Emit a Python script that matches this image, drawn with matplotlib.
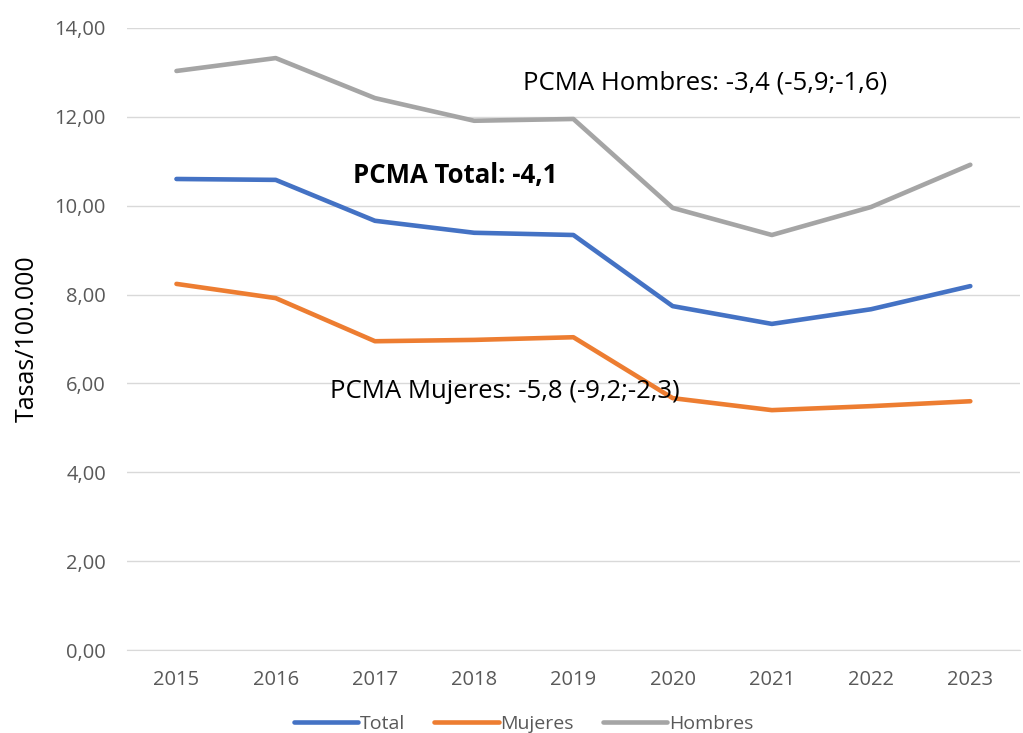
import matplotlib.pyplot as plt

plt.rcParams['font.family'] = ['Open Sans', 'DejaVu Sans']

years = ['2015', '2016', '2017', '2018', '2019', '2020', '2021', '2022', '2023']
total = [10.60, 10.58, 9.66, 9.39, 9.34, 7.74, 7.34, 7.67, 8.19]
mujeres = [8.24, 7.92, 6.95, 6.98, 7.04, 5.67, 5.40, 5.49, 5.60]
hombres = [13.03, 13.32, 12.42, 11.91, 11.95, 9.95, 9.34, 9.97, 10.92]

fig = plt.figure(figsize=(10.23, 7.33), dpi=100)
ax = fig.add_axes([0.124, 0.113, 0.873, 0.849])

x = range(len(years))
ax.plot(x, total, color='#4472C4', lw=3.3, label='Total', solid_capstyle='round')
ax.plot(x, mujeres, color='#ED7D31', lw=3.3, label='Mujeres', solid_capstyle='round')
ax.plot(x, hombres, color='#A5A5A5', lw=3.3, label='Hombres', solid_capstyle='round')

ax.set_xlim(-0.5, len(years) - 0.5)
ax.set_ylim(0, 14)
ax.set_yticks(range(0, 15, 2))
ax.set_yticklabels([f'{v},00' for v in range(0, 15, 2)])
ax.set_xticks(list(x))
ax.set_xticklabels(years)
ax.grid(axis='y', color='#D9D9D9', lw=1)
ax.set_axisbelow(True)
for s in ['top', 'right', 'left']:
    ax.spines[s].set_visible(False)
ax.spines['bottom'].set_color('#D9D9D9')
ax.tick_params(axis='y', length=0, labelsize=14.5, colors='#595959', pad=15)
ax.tick_params(axis='x', length=0, labelsize=14.5, colors='#595959', pad=14)
ax.set_ylabel('Tasas/100.000', fontsize=18, color='#000000', labelpad=11)

ax.text(5.33, 12.76, 'PCMA Hombres: -3,4 (-5,9;-1,6)', fontsize=18.5, ha='center', va='center')
ax.text(2.81, 10.67, 'PCMA Total: -4,1', fontsize=18.5, fontweight='bold', ha='center', va='center')
ax.text(3.31, 5.83, 'PCMA Mujeres: -5,8 (-9,2;-2,3)', fontsize=18.5, ha='center', va='center')

fig.legend(loc='center', bbox_to_anchor=(0.512, 0.012), ncol=3, frameon=False,
           fontsize=14, handlelength=3.3, columnspacing=1.5, handletextpad=0.1,
           labelcolor='#595959')

fig.savefig('out.png', dpi=100)
